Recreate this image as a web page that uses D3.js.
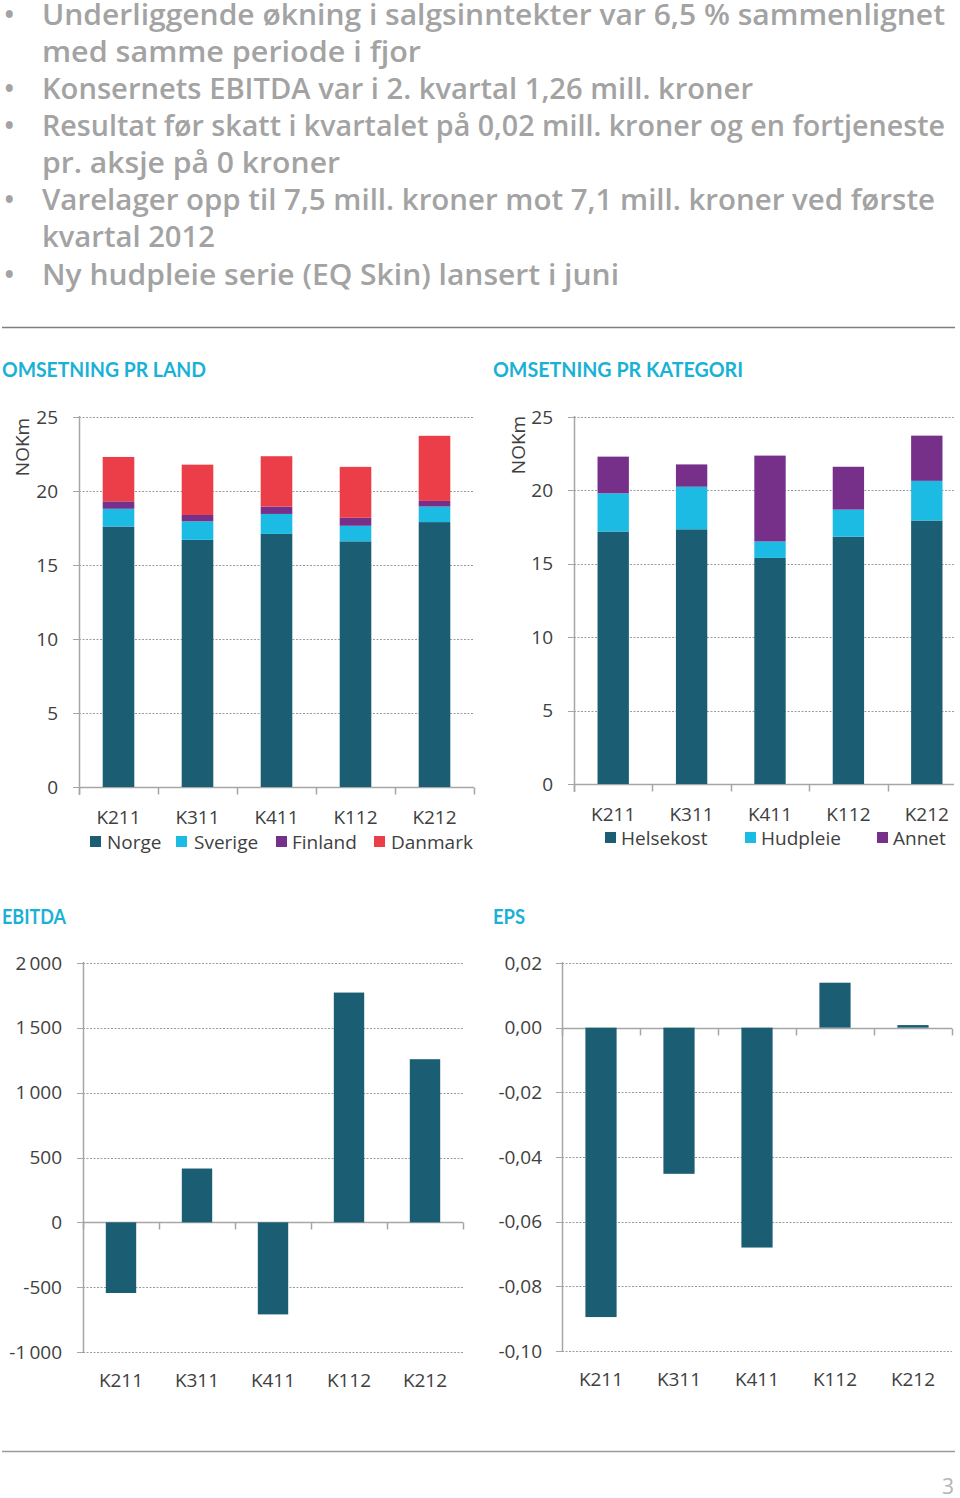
<!DOCTYPE html>
<html>
<head>
<meta charset="utf-8">
<script src="https://cdn.jsdelivr.net/npm/d3@7"></script>
<style>
html,body{margin:0;padding:0;background:#fff;}
svg{display:block;}
</style>
</head>
<body>
<svg id="page" width="960" height="1498"></svg>
<script>
// ---------------- DATA ----------------
const quarters = ["K211", "K311", "K411", "K112", "K212"];

// Omsetning pr land (NOKm)
const countries = ["Norge", "Sverige", "Finland", "Danmark"];
const norge   = [17.6, 16.7, 17.1, 16.6, 17.9];
const sverige = [1.2, 1.25, 1.35, 1.05, 1.05];
const finland = [0.5, 0.43, 0.5, 0.54, 0.38];
const danmark = [3.0, 3.4, 3.4, 3.44, 4.4];

// Omsetning pr kategori (NOKm)
const categories = ["Helsekost", "Hudpleie", "Annet"];
const helsekost = [17.2, 17.35, 15.4, 16.85, 17.95];
const hudpleie  = [2.6, 2.9, 1.12, 1.84, 2.7];
const annet     = [2.5, 1.52, 5.85, 2.92, 3.08];

// EBITDA (NOK 1000)
const ebitda = [-545, 415, -710, 1772, 1258];
// EPS (NOK)
const eps = [-0.0895, -0.0452, -0.068, 0.0139, 0.0008];

// Tick values
const omsTicks = [0, 5, 10, 15, 20, 25];
const ebitdaTicks = [-1000, -500, 0, 500, 1000, 1500, 2000];
const epsTicks = [-0.10, -0.08, -0.06, -0.04, -0.02, 0.00, 0.02];

// Text
const bullets = [
  ["Underliggende økning i salgsinntekter var 6,5 % sammenlignet", "med samme periode i fjor"],
  ["Konsernets EBITDA var i 2. kvartal 1,26 mill. kroner"],
  ["Resultat før skatt i kvartalet på 0,02 mill. kroner og en fortjeneste", "pr. aksje på 0 kroner"],
  ["Varelager opp til 7,5 mill. kroner mot 7,1 mill. kroner ved første", "kvartal 2012"],
  ["Ny hudpleie serie (EQ Skin) lansert i juni"]
];
const titles = ["OMSETNING PR LAND", "OMSETNING PR KATEGORI", "EBITDA", "EPS"];

// ---------------- STYLE ----------------
const C = {teal:"#1b5e74", cyan:"#1cbbe3", purple:"#77308a", red:"#ec3e48",
  title:"#1ab1d6", bullet:"#a3a3a3", axis:"#a6a6a6", grid:"#9c9c9c", label:"#404040"};
const LFONT = "'Open Sans', 'Noto Sans', sans-serif";

const svg = d3.select("#page");

// ---------------- BULLETS ----------------
const bulletLineWidths = [903, 379, 711, 903, 298, 893, 173, 577];
const bulletBaselines = [25, 62, 99, 136, 173, 210, 247, 285];
let li = 0;
const bg = svg.append("g").attr("font-family", LFONT).attr("font-weight", 600)
  .attr("font-size", 28).attr("fill", C.bullet);
bullets.forEach(lines => {
  bg.append("text").attr("x", 4).attr("y", bulletBaselines[li]).text("•");
  lines.forEach(line => {
    bg.append("text").attr("x", 42).attr("y", bulletBaselines[li])
      .attr("textLength", bulletLineWidths[li]).attr("lengthAdjust", "spacingAndGlyphs")
      .text(line);
    li++;
  });
});

// rules
svg.append("line").attr("x1", 2).attr("x2", 955).attr("y1", 327.5).attr("y2", 327.5)
  .attr("stroke", "#7f7f7f").attr("stroke-width", 1.5);
svg.append("line").attr("x1", 2).attr("x2", 955).attr("y1", 1451.5).attr("y2", 1451.5)
  .attr("stroke", "#9a9a9a").attr("stroke-width", 1.5);
svg.append("text").attr("x", 948).attr("y", 1494).attr("text-anchor", "middle")
  .attr("font-family", LFONT).attr("font-size", 21).attr("fill", "#b5b5b5").text("3");

// titles
const titleSpec = [[2, 377, 204], [493, 377, 250], [2, 924, 64], [493, 924, 32]];
titles.forEach((t, i) => {
  svg.append("text").attr("x", titleSpec[i][0]).attr("y", titleSpec[i][1])
    .attr("font-family", "'Lato', 'Open Sans', sans-serif").attr("font-weight", 700)
    .attr("font-size", 20).attr("fill", C.title)
    .attr("textLength", titleSpec[i][2]).attr("lengthAdjust", "spacingAndGlyphs").text(t);
});

// ---------------- HELPERS ----------------
function drawFrame(g, o) {
  const y = o.y, x = o.x;
  const [yBot, yTop] = y.range();
  // gridlines
  g.selectAll(".grid").data(o.ticks.filter(t => t !== o.zeroTick)).join("line")
    .attr("x1", o.x0).attr("x2", o.xEnd)
    .attr("y1", d => Math.round(y(d)) + 0.5).attr("y2", d => Math.round(y(d)) + 0.5)
    .attr("stroke", C.grid).attr("stroke-width", 1).attr("stroke-dasharray", "2,1.5");
  // y ticks (outside, left)
  g.selectAll(".ytick").data(o.ticks).join("line")
    .attr("x1", o.x0 - 6).attr("x2", o.x0)
    .attr("y1", d => Math.round(y(d)) + 0.5).attr("y2", d => Math.round(y(d)) + 0.5)
    .attr("stroke", C.axis).attr("stroke-width", 1);
  // y labels
  g.selectAll(".ylab").data(o.ticks).join("text")
    .attr("x", o.labelRight).attr("y", d => y(d)).attr("dy", "0.35em")
    .attr("text-anchor", "end").attr("font-family", LFONT).attr("font-size", 19)
    .attr("fill", C.label).text(o.fmt);
  // y axis line
  g.append("line").attr("x1", o.x0 + 0.5).attr("x2", o.x0 + 0.5)
    .attr("y1", Math.min(yBot, yTop) - 1).attr("y2", Math.max(yBot, yTop) + (o.axisAtBottom ? 8 : 0))
    .attr("stroke", C.axis).attr("stroke-width", 1.5);
  // x axis at zero
  const zy = Math.round(y(0)) + 0.5;
  g.append("line").attr("x1", o.x0).attr("x2", o.xEnd).attr("y1", zy).attr("y2", zy)
    .attr("stroke", C.axis).attr("stroke-width", 1.5);
  // x ticks at band boundaries
  const bounds = d3.range(quarters.length + 1).map(i => x.range()[0] + i * x.step())
    .filter(v => v <= o.xEnd + 1);
  g.selectAll(".xtick").data(bounds).join("line")
    .attr("x1", d => Math.round(d) + 0.5).attr("x2", d => Math.round(d) + 0.5)
    .attr("y1", zy).attr("y2", zy + 7)
    .attr("stroke", C.axis).attr("stroke-width", 1.5);
}

function xLabels(g, x, baseline) {
  g.selectAll(".xlab").data(quarters).join("text")
    .attr("x", d => x(d) + x.bandwidth() / 2).attr("y", baseline)
    .attr("text-anchor", "middle").attr("font-family", LFONT).attr("font-size", 19)
    .attr("fill", C.label).text(d => d);
}

function legend(g, items, colors, xs, textXs, sqY, baseline) {
  items.forEach((name, i) => {
    g.append("rect").attr("x", xs[i]).attr("y", sqY).attr("width", 11).attr("height", 11)
      .attr("fill", colors[i]);
    g.append("text").attr("x", textXs[i]).attr("y", baseline)
      .attr("font-family", LFONT).attr("font-size", 19).attr("fill", C.label).text(name);
  });
}

function nokm(g, tx, ty) {
  g.append("text").attr("transform", `translate(${tx},${ty}) rotate(-90)`)
    .attr("text-anchor", "middle").attr("font-family", LFONT).attr("font-size", 19)
    .attr("fill", C.label).text("NOKm");
}

function stacked(g, x, y, series, colors) {
  const rows = quarters.map((q, i) => {
    const r = {q};
    series.forEach((s, k) => r["s" + k] = s[i]);
    return r;
  });
  const keys = series.map((s, k) => "s" + k);
  const st = d3.stack().keys(keys)(rows);
  g.selectAll(".layer").data(st).join("g").attr("fill", (d, k) => colors[k])
    .selectAll("rect").data(d => d).join("rect")
    .attr("x", d => x(d.data.q)).attr("width", x.bandwidth())
    .attr("y", d => y(d[1])).attr("height", d => y(d[0]) - y(d[1]));
}

function bars(g, x, y, vals) {
  g.selectAll(".bar").data(quarters).join("rect")
    .attr("fill", C.teal)
    .attr("x", d => x(d)).attr("width", x.bandwidth())
    .attr("y", (d, i) => y(Math.max(0, vals[i])))
    .attr("height", (d, i) => Math.abs(y(vals[i]) - y(0)));
}

// ---------------- CHART 1: pr land ----------------
{
  const g = svg.append("g");
  const x = d3.scaleBand().domain(quarters).range([79, 474]).paddingInner(0.6).paddingOuter(0.3);
  const y = d3.scaleLinear().domain([0, 25]).range([787, 417]);
  drawFrame(g, {x, y, ticks: omsTicks, zeroTick: 0, fmt: d => d, x0: 79, xEnd: 474, labelRight: 58, axisAtBottom: true});
  stacked(g, x, y, [norge, sverige, finland, danmark], [C.teal, C.cyan, C.purple, C.red]);
  xLabels(g, x, 824);
  legend(g, countries, [C.teal, C.cyan, C.purple, C.red], [90, 176, 276, 374], [107, 194, 292, 391], 836, 849);
  nokm(g, 29, 447);
}

// ---------------- CHART 2: pr kategori ----------------
{
  const g = svg.append("g");
  const x = d3.scaleBand().domain(quarters).range([574, 966]).paddingInner(0.6).paddingOuter(0.3);
  const y = d3.scaleLinear().domain([0, 25]).range([784, 417]);
  drawFrame(g, {x, y, ticks: omsTicks, zeroTick: 0, fmt: d => d, x0: 574, xEnd: 954, labelRight: 553, axisAtBottom: true});
  stacked(g, x, y, [helsekost, hudpleie, annet], [C.teal, C.cyan, C.purple]);
  xLabels(g, x, 821);
  legend(g, categories, [C.teal, C.cyan, C.purple], [605, 745, 877], [621, 761, 893], 832, 845);
  nokm(g, 525, 445);
}

// ---------------- CHART 3: EBITDA ----------------
{
  const g = svg.append("g");
  const x = d3.scaleBand().domain(quarters).range([83, 463]).paddingInner(0.6).paddingOuter(0.3);
  const y = d3.scaleLinear().domain([-1000, 2000]).range([1352, 963]);
  const fmt = d => {
    const sign = d < 0 ? "-" : "";
    const a = Math.abs(d);
    return sign + (a >= 1000 ? Math.floor(a / 1000) + "\u2009" + d3.format("03d")(a % 1000) : String(a));
  };
  drawFrame(g, {x, y, ticks: ebitdaTicks, zeroTick: 0, fmt, x0: 83, xEnd: 463, labelRight: 62, axisAtBottom: false});
  bars(g, x, y, ebitda);
  xLabels(g, x, 1387);
}

// ---------------- CHART 4: EPS ----------------
{
  const g = svg.append("g");
  const x = d3.scaleBand().domain(quarters).range([562, 952]).paddingInner(0.6).paddingOuter(0.3);
  const y = d3.scaleLinear().domain([-0.10, 0.02]).range([1351, 963]);
  const fmt = d => (d < -1e-9 ? "-" : "") + Math.abs(d).toFixed(2).replace(".", ",");
  drawFrame(g, {x, y, ticks: epsTicks, zeroTick: 0, fmt, x0: 562, xEnd: 952, labelRight: 542, axisAtBottom: false});
  bars(g, x, y, eps);
  xLabels(g, x, 1386);
}
</script>
</body>
</html>
